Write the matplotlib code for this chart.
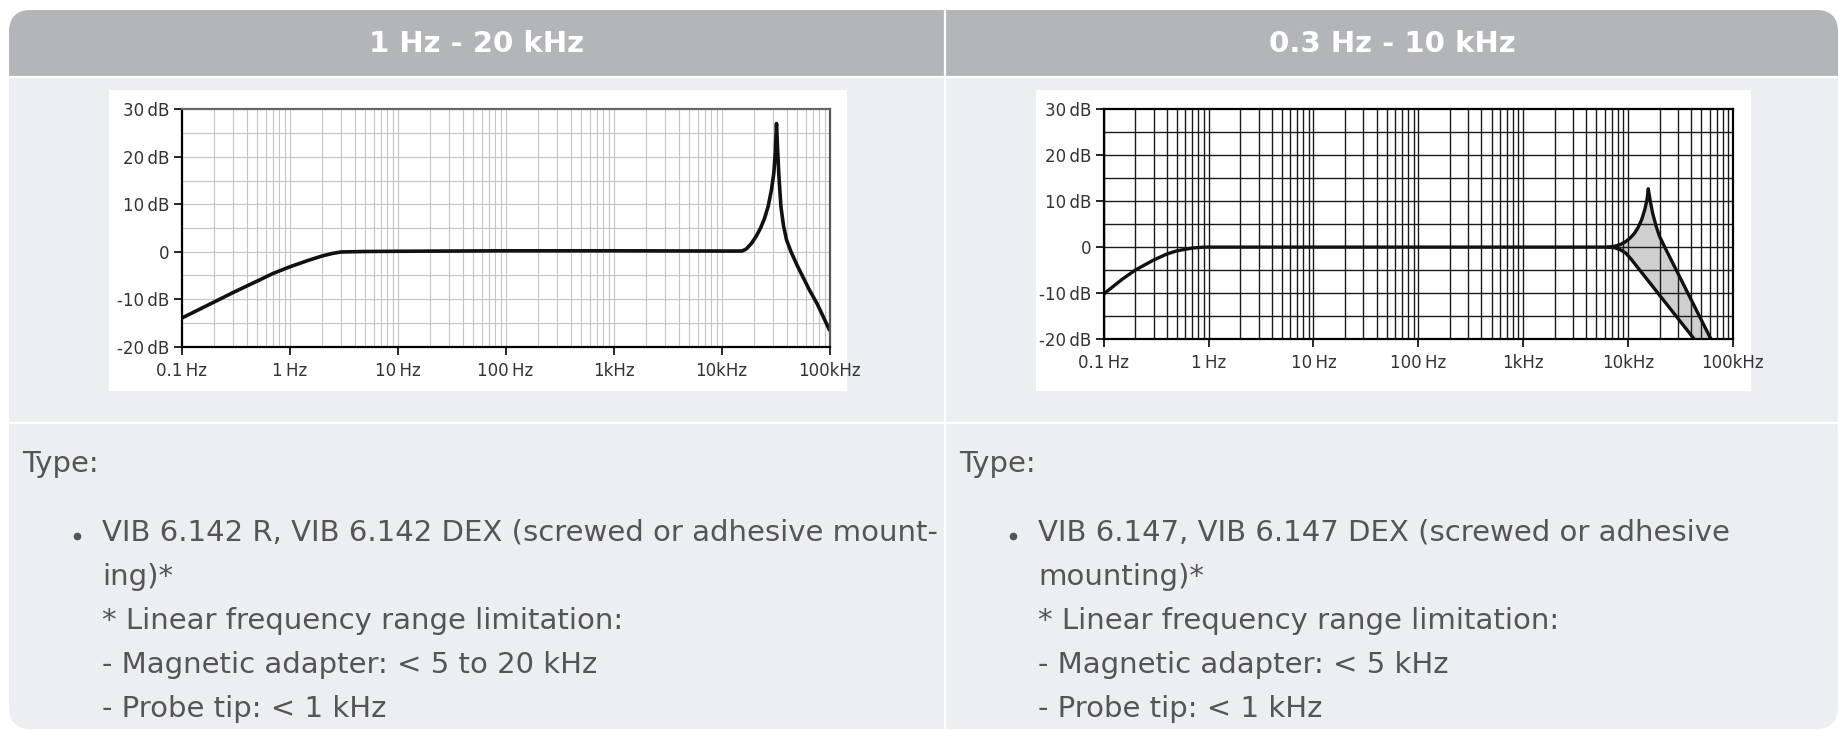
import numpy as np
import matplotlib
matplotlib.use("Agg")
import matplotlib.pyplot as plt
from matplotlib.patches import FancyBboxPatch, Rectangle
from matplotlib.ticker import FixedLocator, NullFormatter

# --- data ------------------------------------------------------------------
# left chart: 1 Hz - 20 kHz
f1 = [0.1, 0.2, 0.3, 0.5, 0.7, 1.0, 1.5, 2.0, 2.5, 3.0, 5, 10, 100, 1000,
      10000, 15500, 17000, 19000, 21000, 23000, 25000, 27000, 29000, 30500,
      31500, 32300, 33000, 34000, 35500, 37500, 40000, 44000, 50000, 57000,
      65000, 77000, 88000, 100000]
db1 = [-14.0, -10.6, -8.6, -6.2, -4.6, -3.2, -1.8, -0.9, -0.35, -0.05, 0.05,
       0.1, 0.2, 0.2, 0.15, 0.15, 0.6, 1.8, 3.3, 5.0, 7.0, 9.5, 13.0, 16.5,
       21.0, 27.0, 22.0, 16.0, 9.5, 5.5, 2.5, 0.0, -2.8, -5.4, -8.0, -11.0,
       -13.8, -16.5]

# right chart: 0.3 Hz - 10 kHz, upper and lower limit
f2_up = [0.1, 0.15, 0.2, 0.3, 0.4, 0.5, 0.7, 0.9, 10, 1000, 6500, 7500, 8500,
         9500, 10500, 11500, 12500, 13500, 14500, 15200, 15600, 16300, 17200,
         18500, 20000, 22400, 70000]
db2_up = [-10.2, -7.0, -5.0, -2.8, -1.5, -0.8, -0.2, 0.0, 0.0, 0.0, 0.0, 0.2,
          0.6, 1.2, 2.0, 3.0, 4.3, 6.0, 8.3, 10.5, 12.7, 10.0, 7.3, 4.6, 2.3,
          0.0, -22.5]
f2_lo = [6500, 7500, 8500, 9500, 10600, 47000]
db2_lo = [0.0, -0.15, -0.6, -1.3, -2.5, -21.2]

x_ticks = [0.1, 1, 10, 100, 1000, 10000, 100000]
x_labels = ["0.1\u2009Hz", "1\u2009Hz", "10\u2009Hz", "100\u2009Hz", "1kHz", "10kHz", "100kHz"]
y_ticks = [-20, -10, 0, 10, 20, 30]
y_labels = ["-20\u2009dB", "-10\u2009dB", "0", "10\u2009dB", "20\u2009dB", "30\u2009dB"]

headers = ["1 Hz - 20 kHz", "0.3 Hz - 10 kHz"]
left_lines = ["VIB 6.142 R, VIB 6.142 DEX (screwed or adhesive mount-", "ing)*",
              "* Linear frequency range limitation:",
              "- Magnetic adapter: < 5 to 20 kHz", "- Probe tip: < 1 kHz"]
right_lines = ["VIB 6.147, VIB 6.147 DEX (screwed or adhesive", "mounting)*",
               "* Linear frequency range limitation:",
               "- Magnetic adapter: < 5 kHz", "- Probe tip: < 1 kHz"]

# --- page layout ------------------------------------------------------------
W, H = 1839, 730
plt.rcParams['font.family'] = ['DejaVu Sans']
fig = plt.figure(figsize=(W / 100, H / 100), dpi=100)
fig.patch.set_facecolor('white')


def box(x0, y0, x1, y1):
    return [x0 / W, 1 - y1 / H, (x1 - x0) / W, (y1 - y0) / H]


bg = fig.add_axes([0, 0, 1, 1])
bg.set_xlim(0, W)
bg.set_ylim(H, 0)
bg.axis('off')

body_col = '#edeef2'
head_col = '#b4b5b9'
bg.add_patch(FancyBboxPatch((9, 10), 1829, 719, boxstyle="round,pad=0,rounding_size=22",
                            fc=body_col, ec='none'))
bg.add_patch(FancyBboxPatch((9, 10), 1829, 66, boxstyle="round,pad=0,rounding_size=22",
                            fc=head_col, ec='none'))
bg.add_patch(Rectangle((9, 45), 1829, 31, fc=head_col, ec='none'))
bg.plot([9, 1838], [77, 77], color='white', lw=1.6)
bg.plot([9, 1838], [423, 423], color='white', lw=1.6)
bg.plot([945, 945], [10, 729], color='white', lw=1.6)

bg.text(477, 44, headers[0], color='white', fontsize=21, fontweight='bold',
        ha='center', va='center')
bg.text(1392, 44, headers[1], color='white', fontsize=21, fontweight='bold',
        ha='center', va='center')

# white frames behind the charts
bg.add_patch(Rectangle((109, 90), 738, 301, fc='white', ec='none'))
bg.add_patch(Rectangle((1036, 90), 715, 301, fc='white', ec='none'))

# text below the charts
txt_col = '#555555'
for x_type, x_bul, x_txt, lines in [(22, 77, 102, left_lines), (959, 1013, 1038, right_lines)]:
    bg.text(x_type, 472, "Type:", color=txt_col, fontsize=21, va='baseline')
    bg.plot(x_bul, 536, 'o', color=txt_col, ms=4.5)
    for i, line in enumerate(lines):
        bg.text(x_txt, 541 + 44 * i, line, color=txt_col, fontsize=21, va='baseline')


def style_axes(ax, grid_col, grid_lw, spine_cols):
    ax.set_xscale('log')
    ax.set_xlim(0.1, 100000)
    ax.set_ylim(-20, 30)
    ax.set_facecolor('white')
    minors = [m * 10.0 ** e for e in range(-1, 5) for m in range(2, 10)]
    for x in minors + x_ticks:
        ax.axvline(x, color=grid_col, lw=grid_lw, zorder=1.5)
    for y in range(-15, 30, 5):
        ax.axhline(y, color=grid_col, lw=grid_lw, zorder=1.5)
    ax.xaxis.set_major_locator(FixedLocator(x_ticks))
    ax.xaxis.set_minor_locator(FixedLocator([]))
    ax.xaxis.set_minor_formatter(NullFormatter())
    ax.set_xticklabels(x_labels)
    ax.set_yticks(y_ticks)
    ax.set_yticklabels(y_labels)
    ax.tick_params(axis='both', length=6, width=1.2, color='black', labelsize=12,
                   labelcolor='#333333')
    ax.tick_params(axis='x', pad=5)
    ax.tick_params(axis='y', pad=3)
    for side, col in spine_cols.items():
        ax.spines[side].set_color(col)
        ax.spines[side].set_linewidth(1.6)
        ax.spines[side].set_zorder(4)


ax1 = fig.add_axes(box(181.5, 109.3, 829.5, 346.7))
style_axes(ax1, '#c4c4c4', 0.8, {'left': 'black', 'bottom': 'black',
                                 'top': '#666666', 'right': '#555555'})
ax1.plot(f1, db1, color='#111111', lw=2.6, zorder=3, solid_capstyle='round')

ax2 = fig.add_axes(box(1103.7, 109.3, 1732.9, 339))
style_axes(ax2, '#1a1a1a', 1.0, {'left': 'black', 'bottom': 'black',
                                 'top': 'black', 'right': 'black'})
f_up = np.array(f2_up)
d_up = np.array(db2_up)
sel = f_up >= f2_lo[0]
ax2.fill(np.concatenate([f_up[sel], f2_lo[::-1]]),
         np.concatenate([d_up[sel], db2_lo[::-1]]),
         color='#cfcfcf', zorder=1, lw=0)
ax2.plot(f2_up, db2_up, color='#111111', lw=2.4, zorder=3)
ax2.plot(f2_lo, db2_lo, color='#111111', lw=2.4, zorder=3)

fig.savefig('out.png', dpi=100)
